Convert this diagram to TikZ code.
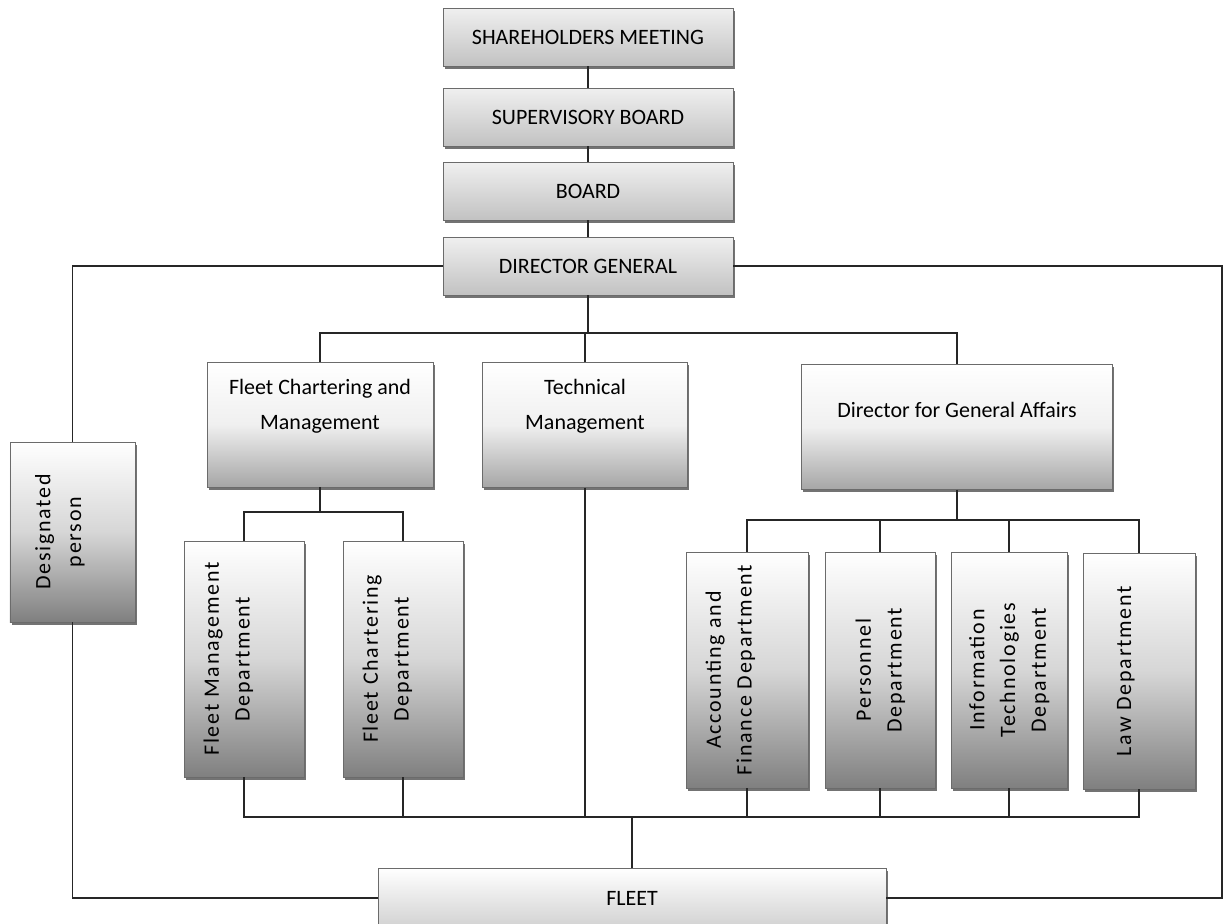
\documentclass[tikz,border=0pt]{standalone}
\usepackage{fontspec}
\setmainfont{Carlito}
\newfontfamily\spacedfont{Carlito}[LetterSpace=8]
\usepackage{graphicx}
\usetikzlibrary{shadows}
\definecolor{edgegray}{HTML}{6B6B6B}
\newcommand{\vtext}[2][0mm]{\rotatebox{90}{\begin{tabular}{@{}c@{}}#2\end{tabular}}\hspace*{#1}}

\begin{document}
\begin{tikzpicture}[x=0.2mm, y=-0.2mm,
  box/.style={draw=edgegray, line width=0.5pt, inner sep=0pt, drop shadow={shadow xshift=0.35mm, shadow yshift=-0.55mm, fill=black!55, opacity=1}},
  topbox/.style={box, top color=black!6, bottom color=black!24, minimum width=58mm, minimum height=11.6mm, font=\fontsize{12.5}{15}\selectfont},
  midbox/.style={box, top color=white, bottom color=black!35, middle color=black!6, minimum height=25mm, align=center, text depth=8.2mm, font=\fontsize{12.5}{20}\selectfont},
  vbox/.style={box, top color=white, bottom color=black!50, middle color=black!16, minimum height=47.2mm, font=\spacedfont\fontsize{12.5}{17.5}\selectfont},
  conn/.style={draw=black!85, line width=0.8pt}
]
  \useasboundingbox (0,0) rectangle (1229,923);

  \node[topbox] (sh)  at (588,37)  {SHAREHOLDERS MEETING};
  \node[topbox] (sup) at (588,117) {SUPERVISORY BOARD};
  \node[topbox] (brd) at (588,191) {BOARD};
  \node[topbox] (dg)  at (588,266) {DIRECTOR GENERAL};

  \node[midbox, minimum width=45.2mm] (fcm)  at (320,424.5) {Fleet Chartering and\\Management};
  \node[midbox, minimum width=41mm]   (tech) at (585,425) {Technical\\Management};
  \node[midbox, minimum width=62.2mm, text depth=6.8mm] (dga) at (957,427) {Director for General Affairs};

  \node[vbox, minimum width=25mm, minimum height=36mm] (dp) at (72.5,532) {\vtext[5.2mm]{Designated\\person}};
  \node[vbox, minimum width=24mm]   (fmd) at (244,659) {\vtext[6.4mm]{Fleet Management\\Department}};
  \node[vbox, minimum width=24mm]   (fcd) at (403,659) {\vtext[6.4mm]{Fleet Chartering\\Department}};
  \node[vbox, minimum width=24.4mm] (afd) at (747,670) {\vtext[6.8mm]{Accounting and\\Finance Department}};
  \node[vbox, minimum width=22mm]   (per) at (880,670) {\vtext{Personnel\\Department}};
  \node[vbox, minimum width=23.2mm] (itd) at (1009,670) {\vtext{Information\\Technologies\\Department}};
  \node[vbox, minimum width=22.4mm] (law) at (1139,671) {\vtext[5.6mm]{Law Department}};

  \node[box, top color=white, bottom color=black!18, minimum width=101.6mm, minimum height=12mm, font=\fontsize{12.5}{15}\selectfont] (fleet) at (632,898) {FLEET};

  \coordinate (dgsplit)  at (588,333);
  \coordinate (fcsplit)  at (320,512);
  \coordinate (dgasplit) at (957,520);
  \coordinate (busL)     at (244,817);
  \coordinate (rgt)      at (1222,500);

  \draw[conn] (sh) -- (sup);
  \draw[conn] (sup) -- (brd);
  \draw[conn] (brd) -- (dg);
  \draw[conn] (dg.south) -- (dgsplit);
  \draw[conn] (fcm.north) |- (dgsplit) -| (dga.north);
  \draw[conn] (tech.north) -- (tech.north |- dgsplit);

  \draw[conn] (dg.west) -| (dp.north);
  \draw[conn] (dp.south) |- (fleet.west);
  \draw[conn] (dg.east) -- (dg.east -| rgt) -- (rgt |- fleet.east) -- (fleet.east);

  \draw[conn] (fcm.south) -- (fcsplit);
  \draw[conn] (fmd.north) |- (fcsplit) -| (fcd.north);
  \draw[conn] (dga.south) -- (dgasplit);
  \draw[conn] (afd.north) |- (dgasplit) -| (law.north);
  \draw[conn] (per.north) -- (per.north |- dgasplit);
  \draw[conn] (itd.north) -- (itd.north |- dgasplit);

  \draw[conn] (fmd.south) -- (busL) -| (law.south);
  \draw[conn] (fcd.south) -- (fcd.south |- busL);
  \draw[conn] (tech.south) -- (tech.south |- busL);
  \draw[conn] (afd.south) -- (afd.south |- busL);
  \draw[conn] (per.south) -- (per.south |- busL);
  \draw[conn] (itd.south) -- (itd.south |- busL);
  \draw[conn] (fleet.north) -- (fleet.north |- busL);
\end{tikzpicture}
\end{document}
